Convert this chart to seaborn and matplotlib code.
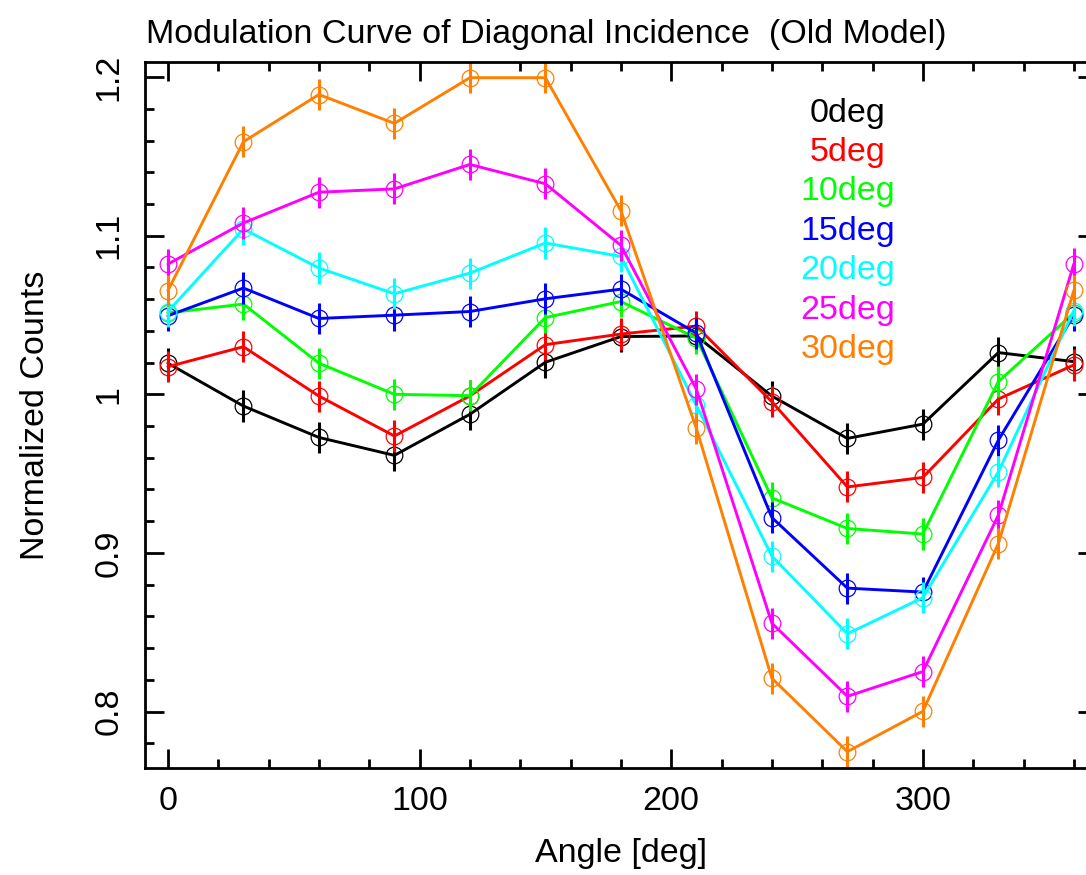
import matplotlib
matplotlib.use("Agg")
import matplotlib.pyplot as plt
import seaborn as sns
import numpy as np
import pandas as pd
from matplotlib.ticker import MultipleLocator

# ---- data ----
angles = [0, 30, 60, 90, 120, 150, 180, 210, 240, 270, 300, 330, 360]
labels = ["0deg", "5deg", "10deg", "15deg", "20deg", "25deg", "30deg"]
colors = ["#000000", "#ff0000", "#00ff00", "#0000ff", "#00ffff", "#ff00ff", "#ff8000"]

counts_0deg = [1.0196, 0.9926, 0.9728, 0.9615, 0.9874, 1.0202, 1.0364, 1.0368, 0.9989, 0.9722, 0.9812, 1.0263, 1.0206]
counts_5deg = [1.0174, 1.0300, 0.9989, 0.9737, 0.9990, 1.0313, 1.0380, 1.0430, 0.9953, 0.9416, 0.9476, 0.9970, 1.0185]
counts_10deg = [1.0513, 1.0569, 1.0196, 1.0000, 0.9991, 1.0484, 1.0585, 1.0354, 0.9347, 0.9154, 0.9119, 1.0080, 1.0513]
counts_15deg = [1.0495, 1.0670, 1.0478, 1.0499, 1.0522, 1.0602, 1.0663, 1.0385, 0.9223, 0.8778, 0.8753, 0.9711, 1.0499]
counts_20deg = [1.0522, 1.1042, 1.0796, 1.0634, 1.0764, 1.0954, 1.0869, 0.9930, 0.8980, 0.8490, 0.8718, 0.9511, 1.0528]
counts_25deg = [1.0821, 1.1080, 1.1274, 1.1295, 1.1449, 1.1327, 1.0939, 1.0032, 0.8557, 0.8096, 0.8252, 0.9238, 1.0822]
counts_30deg = [1.0654, 1.1592, 1.1890, 1.1708, 1.1996, 1.1996, 1.1158, 0.9785, 0.8210, 0.7747, 0.8001, 0.9059, 1.0655]
error = 0.0098

series = [counts_0deg, counts_5deg, counts_10deg, counts_15deg,
          counts_20deg, counts_25deg, counts_30deg]

title = "Modulation Curve of Diagonal Incidence  (Old Model)"
xlabel = "Angle [deg]"
ylabel = "Normalized Counts"

# ---- style ----
sns.set_theme(style="ticks")
plt.rcParams["font.family"] = ["Liberation Sans", "DejaVu Sans"]

W, H = 1086, 875
fig = plt.figure(figsize=(W / 100, H / 100), dpi=100)
ax = fig.add_axes([145 / W, (H - 768) / H, (1097 - 145) / W, (768 - 62) / H])

for vals, col in zip(series, colors):
    ax.errorbar(angles, vals, yerr=error, fmt="none", ecolor=col,
                elinewidth=2.2, capsize=0)
    sns.lineplot(x=angles, y=vals, ax=ax, color=col, linewidth=2.1,
                 marker="o", markersize=12, markerfacecolor="none",
                 markeredgecolor=col, markeredgewidth=0.9, legend=False)

ax.set_xlim(-9.1, 369.2)
ax.set_ylim(0.7644, 1.2095)

ax.xaxis.set_major_locator(MultipleLocator(100))
ax.xaxis.set_minor_locator(MultipleLocator(20))
ax.yaxis.set_minor_locator(MultipleLocator(0.02))
ax.set_yticks([0.8, 0.9, 1.0, 1.1, 1.2])
ax.set_yticklabels(["0.8", "0.9", "1", "1.1", "1.2"])

ax.tick_params(which="both", direction="in", top=True, right=True,
               width=2, color="black", labelsize=24.5, labelcolor="black")
ax.tick_params(which="major", length=13.7)
ax.tick_params(which="minor", length=6.8)
ax.tick_params(axis="x", which="major", pad=13)
ax.tick_params(axis="y", which="major", pad=15)
for lab in ax.get_yticklabels():
    lab.set_rotation(90)
    lab.set_va("center")

for sp in ax.spines.values():
    sp.set_linewidth(2)
    sp.set_color("black")

ax.set_xlabel(xlabel, fontsize=24.5, color="black", labelpad=15)
ax.set_ylabel(ylabel, fontsize=24.5, color="black", labelpad=30)

# legend as colored text
for i, (lab, col) in enumerate(zip(labels, colors)):
    ax.text(0.738, 0.9155 - i * 0.0558, lab, color=col, fontsize=24.5,
            ha="center", va="baseline", transform=ax.transAxes)

fig.text(146 / W, 1 - 43 / H, title, fontsize=24.5, color="black",
         ha="left", va="baseline")

fig.savefig("out.png", dpi=100)
